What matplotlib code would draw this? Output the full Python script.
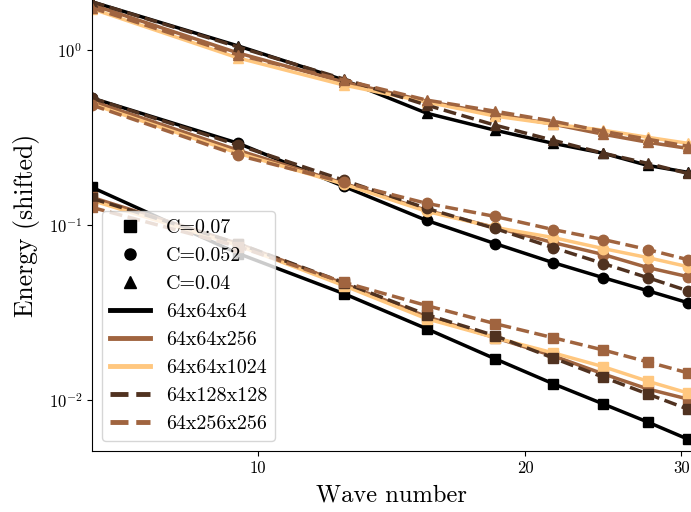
import matplotlib
matplotlib.use("Agg")
import matplotlib.pyplot as plt
from matplotlib.lines import Line2D
from matplotlib.ticker import FixedLocator, FixedFormatter, NullLocator

plt.rcParams['font.family'] = 'serif'
plt.rcParams['font.serif'] = ['cmr10']
plt.rcParams['mathtext.fontset'] = 'cm'
plt.rcParams['axes.formatter.use_mathtext'] = True

wave = [6.5, 9.5, 12.5, 15.5, 18.5, 21.5, 24.5, 27.5, 30.5]

runs = ['64x64x64', '64x64x256', '64x64x1024', '64x128x128', '64x256x256']
run_colors = ['#000000', '#a0643f', '#ffc77f', '#503220', '#a0643f']
run_styles = ['-', '-', '-', '--', '--']

c_labels = ['C=0.07', 'C=0.052', 'C=0.04']
c_markers = ['s', 'o', '^']

# C = 0.07 (squares)
sq_64 = [0.164, 0.0687, 0.0405, 0.0255, 0.0172, 0.0124, 0.00949, 0.00748, 0.00598]
sq_256 = [0.1438, 0.0783, 0.0462, 0.0299, 0.0227, 0.0179, 0.0141, 0.01156, 0.01013]
sq_1024 = [0.1381, 0.0763, 0.0450, 0.0291, 0.0227, 0.0186, 0.0155, 0.0128, 0.01097]
sq_128x128 = [0.1418, 0.0783, 0.0468, 0.0307, 0.0233, 0.0174, 0.0135, 0.01082, 0.00888]
sq_256x256 = [0.1260, 0.0753, 0.0470, 0.0346, 0.0273, 0.0227, 0.0193, 0.0165, 0.0143]

# C = 0.052 (circles)
ci_64 = [0.531, 0.293, 0.166, 0.1061, 0.0783, 0.0610, 0.0500, 0.0421, 0.0360]
ci_256 = [0.510, 0.267, 0.173, 0.1211, 0.0968, 0.0794, 0.0678, 0.0571, 0.0507]
ci_1024 = [0.490, 0.257, 0.171, 0.1195, 0.0968, 0.0848, 0.0733, 0.0651, 0.0578]
ci_128x128 = [0.531, 0.286, 0.180, 0.1243, 0.0955, 0.0743, 0.0602, 0.0500, 0.0421]
ci_256x256 = [0.484, 0.250, 0.175, 0.1328, 0.1119, 0.0942, 0.0826, 0.0724, 0.0634]

# C = 0.04 (triangles)
tr_64 = [1.884, 1.054, 0.673, 0.435, 0.348, 0.293, 0.257, 0.219, 0.200]
tr_256 = [1.811, 0.961, 0.656, 0.510, 0.430, 0.377, 0.330, 0.297, 0.274]
tr_1024 = [1.718, 0.900, 0.630, 0.504, 0.419, 0.377, 0.348, 0.317, 0.293]
tr_128x128 = [1.884, 1.040, 0.682, 0.484, 0.372, 0.305, 0.257, 0.225, 0.197]
tr_256x256 = [1.741, 0.936, 0.673, 0.517, 0.447, 0.392, 0.343, 0.309, 0.282]

groups = [
    [sq_64, sq_256, sq_1024, sq_128x128, sq_256x256],
    [ci_64, ci_256, ci_1024, ci_128x128, ci_256x256],
    [tr_64, tr_256, tr_1024, tr_128x128, tr_256x256],
]

xticks = [10, 20, 30]
xtick_labels = ['10', '20', '30']

fig = plt.figure(figsize=(6.91, 5.12), dpi=100)
ax = fig.add_axes([92 / 691, 61 / 512, 599 / 691, 451 / 512])

for gi, series in enumerate(groups):
    for ri, vals in enumerate(series):
        ax.plot(wave, vals, color=run_colors[ri], ls=run_styles[ri], lw=2.5,
                marker=c_markers[gi], ms=7.5)

ax.set_xscale('log')
ax.set_yscale('log')
ax.set_xlim(6.5, 30.77)
ax.set_ylim(0.00511, 1.93)
ax.xaxis.set_major_locator(FixedLocator(xticks))
ax.xaxis.set_major_formatter(FixedFormatter(xtick_labels))
ax.xaxis.set_minor_locator(NullLocator())
ax.yaxis.set_minor_locator(NullLocator())
ax.tick_params(labelsize=12)
ax.spines['top'].set_visible(False)
ax.spines['right'].set_visible(False)

ax.set_xlabel('Wave number', fontsize=17.6, labelpad=6)
ax.set_ylabel('Energy (shifted)', fontsize=18.5, labelpad=6)

handles = []
for lab, m in zip(c_labels, c_markers):
    handles.append(Line2D([], [], color='k', ls='none', marker=m, ms=8, label=lab))
for lab, c, s in zip(runs, run_colors, run_styles):
    handles.append(Line2D([], [], color=c, ls=s, lw=3.5, label=lab))
ax.legend(handles=handles, loc='lower left', fontsize=14.4)

fig.savefig('out.png', dpi=100)
